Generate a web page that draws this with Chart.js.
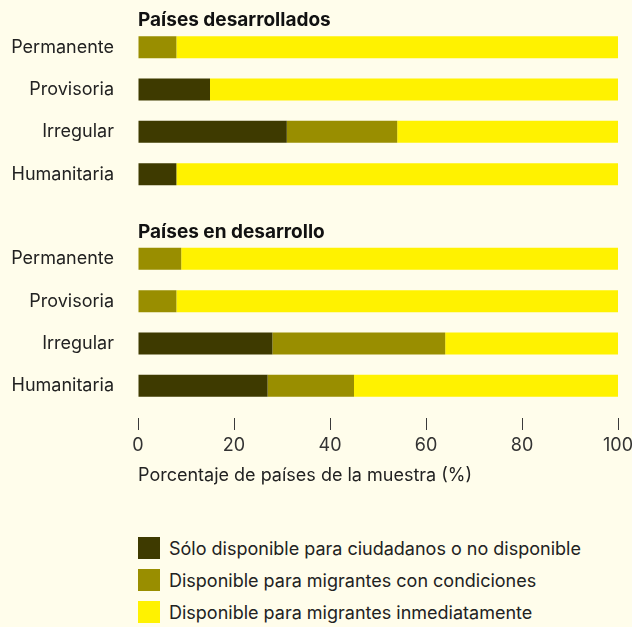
<!DOCTYPE html>
<html>
<head>
<meta charset="utf-8">
<script src="https://cdn.jsdelivr.net/npm/chart.js@4/dist/chart.umd.min.js"></script>
<style>
    body { margin: 0; background: #fffdeb; font-family: Inter, "Liberation Sans", Arial, sans-serif; }
    #wrap { position: relative; width: 632px; height: 627px; }
    #chart_box { position: absolute; left: 0; top: 0; width: 632px; height: 490px; }
    #legend { position: absolute; left: 138px; top: 537px; }
    .item { display: flex; align-items: center; height: 22px; margin-bottom: 10px; font-size: 18px; color: #222; }
    .swatch { width: 22px; height: 22px; margin-right: 9px; }
</style>
</head>
<body>
<div id="wrap">
    <div id="chart_box"><canvas id="migrant_chart"></canvas></div>
    <div id="legend"></div>
</div>
<script>
const groupLabels = ['Países desarrollados', 'Países en desarrollo'];
const categoryLabels = ['Permanente', 'Provisoria', 'Irregular', 'Humanitaria'];
const tickLabels = [0, 20, 40, 60, 80, 100];

// valores por grupo: [desarrollados, en desarrollo]
const soloCiudadanos = [[0, 15, 31, 8], [0, 0, 28, 27]];
const conCondiciones = [[8, 0, 23, 0], [9, 8, 36, 18]];
const inmediatamente = [[92, 85, 46, 92], [91, 92, 36, 55]];

const seriesLabels = [
    'Sólo disponible para ciudadanos o no disponible',
    'Disponible para migrantes con condiciones',
    'Disponible para migrantes inmediatamente',
];
const seriesColors = ['#3e3a00', '#998e00', '#fff200'];

// labels con una fila vacía entre los dos grupos
let labels = [];
let groupStart = [];
groupLabels.forEach((g, i) => {
    if (i > 0) labels.push('');
    groupStart.push(labels.length);
    categoryLabels.forEach((c) => labels.push(c));
});

const withGap = (arr) => {
    let out = [];
    arr.forEach((g, i) => {
        if (i > 0) out.push(null);
        g.forEach((v) => out.push(v));
    });
    return out;
};

const seriesData = [soloCiudadanos, conCondiciones, inmediatamente];

const fontFamily = 'Inter, "Liberation Sans", Arial, sans-serif';
const font = { family: fontFamily, size: 18 };

const groupHeaders = {
    id: 'groupHeaders',
    afterDraw(chart) {
        const ctx = chart.ctx;
        const y = chart.scales.y;
        const x = chart.scales.x;
        ctx.save();
        ctx.fillStyle = '#111';
        ctx.font = 'bold 19px ' + fontFamily;
        ctx.textBaseline = 'middle';
        ctx.textAlign = 'left';
        groupLabels.forEach((g, i) => {
            ctx.fillText(g, x.left, y.getPixelForValue(groupStart[i]) - 27);
        });
        ctx.restore();
    },
};

const noSidePadding = (scale) => {
    scale.paddingLeft = 0;
    scale.paddingRight = 0;
};

const chartCanvas = document.getElementById('migrant_chart');
const chartConfig = {
    type: 'bar',
    data: {
        labels: labels,
        datasets: seriesData.map((d, i) => ({
            label: seriesLabels[i],
            data: withGap(d),
            xAxisID: 'x',
            yAxisID: 'y',
            backgroundColor: seriesColors[i],
            borderWidth: 0,
            barPercentage: 0.52,
            categoryPercentage: 1,
        })),
    },
    options: {
        indexAxis: 'y',
        responsive: true,
        maintainAspectRatio: false,
        animation: {
            duration: 0,
        },
        layout: {
            padding: { top: 26, right: 14, bottom: 0, left: 0 },
        },
        scales: {
            x: {
                stacked: true,
                min: 0,
                max: 100,
                weight: 1,
                afterFit: (scale) => {
                    scale.height = 72;
                    noSidePadding(scale);
                },
                afterBuildTicks: (scale) => { scale.ticks = tickLabels.map((v) => ({ value: v })); },
                grid: { display: true, drawOnChartArea: false, drawTicks: true, tickLength: 12, color: '#3a3a3a', lineWidth: 1 },
                border: { display: false },
                ticks: { color: '#333', font: font, padding: 5, maxRotation: 0 },
                title: {
                    display: true,
                    text: 'Porcentaje de países de la muestra (%)',
                    align: 'start',
                    color: '#222',
                    font: font,
                    padding: { top: 0, bottom: 4 },
                },
            },
            // hueco entre las barras y las marcas del eje
            gap: {
                type: 'linear',
                axis: 'x',
                position: 'bottom',
                weight: 0,
                display: true,
                afterFit: (scale) => {
                    scale.height = 11;
                    noSidePadding(scale);
                },
                grid: { display: false, drawTicks: false },
                border: { display: false },
                ticks: { display: false },
            },
            y: {
                stacked: true,
                afterFit: (scale) => {
                    scale.width = 138;
                    scale.paddingTop = 0;
                    scale.paddingBottom = 0;
                },
                grid: { display: false, drawTicks: false },
                border: { display: false },
                ticks: { color: '#222', font: font, padding: 24 },
            },
        },
        plugins: {
            legend: { display: false },
            tooltip: { enabled: false },
        },
    },
    plugins: [groupHeaders],
};
const migrantChart = new Chart(chartCanvas, chartConfig);

const legendBox = document.getElementById('legend');
seriesLabels.forEach((l, i) => {
    const item = document.createElement('div');
    item.className = 'item';
    const sw = document.createElement('div');
    sw.className = 'swatch';
    sw.style.background = seriesColors[i];
    const tx = document.createElement('span');
    tx.textContent = l;
    item.appendChild(sw);
    item.appendChild(tx);
    legendBox.appendChild(item);
});
</script>
</body>
</html>
